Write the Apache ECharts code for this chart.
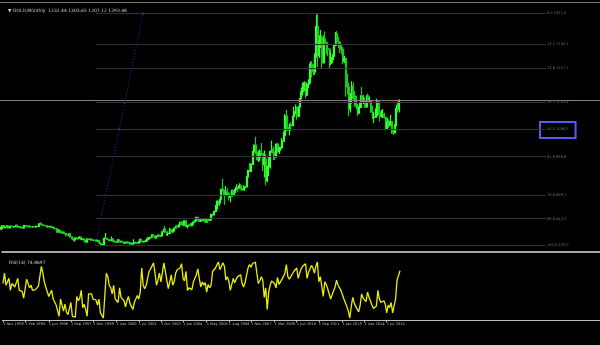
<!DOCTYPE html>
<html>
<head>
<meta charset="utf-8">
<script src="https://cdn.jsdelivr.net/npm/echarts@6/dist/echarts.min.js"></script>
<style>html,body{margin:0;padding:0;background:#000;}#c{width:600px;height:345px;}</style>
</head>
<body>
<div id="c"></div>
<script>
// ---- DATA (monthly GOLD bars, Nov 1993 .. Apr 2016) : [open, close, low, high]
const bars1993 = [[369,370,360,384],[370,391,367,393]];
const bars1994 = [[391,378,375,396],[378,381,374,388],[381,390,378,393],[390,376,369,392],[376,387,374,390],[387,386,383,395],[386,384,381,391],[384,385,377,388],[385,394,384,398],[394,383,383,396],[383,383,379,390],[383,383,375,385]];
const bars1995 = [[383,375,372,384],[375,376,371,379],[376,392,375,396],[392,389,387,396],[389,385,382,392],[385,388,382,391],[388,383,381,389],[383,382,379,386],[382,384,381,387],[384,383,380,388],[383,387,382,390],[387,387,384,390]];
const bars1996 = [[387,405,387,407],[405,401,396,416],[401,396,394,403],[396,392,389,396],[392,391,389,395],[391,382,380,392],[382,385,379,387],[385,387,384,389],[387,379,378,388],[379,380,376,386],[380,371,369,383],[371,369,367,374]];
const bars1997 = [[369,345,342,369],[345,358,341,367],[358,349,347,358],[349,340,337,351],[340,345,339,350],[345,334,333,348],[334,326,314,335],[326,325,319,330],[325,333,317,336],[333,311,306,337],[311,296,294,316],[296,290,283,299]];
const bars1998 = [[290,303,276,308],[303,298,292,305],[298,301,292,302],[301,310,300,315],[310,293,291,311],[293,296,286,299],[296,288,287,297],[288,273,272,290],[273,294,273,300],[294,292,288,302],[292,294,289,300],[294,288,284,297]];
const bars1999 = [[288,287,283,293],[287,287,282,291],[287,280,278,291],[280,286,278,289],[286,268,266,291],[268,262,257,271],[262,255,253,265],[255,255,252,261],[255,299,253,307],[299,299,296,338],[299,292,288,305],[292,290,280,293]];
const bars2000 = [[290,283,281,292],[283,294,281,313],[294,278,276,296],[278,275,273,286],[275,273,267,278],[273,289,272,293],[289,277,276,291],[277,278,271,280],[278,273,270,278],[273,265,263,275],[265,270,264,272],[270,274,267,275]];
const bars2001 = [[274,266,263,275],[266,267,255,268],[267,258,256,269],[258,264,255,266],[264,267,263,293],[267,270,265,276],[270,266,264,272],[266,273,265,281],[273,293,271,294],[293,279,277,294],[279,275,271,282],[275,279,272,281]];
const bars2002 = [[279,282,277,291],[282,297,282,309],[297,303,289,303],[303,308,298,309],[308,326,307,328],[326,318,315,332],[318,304,302,323],[304,312,300,316],[312,324,311,327],[324,316,313,325],[316,319,314,323],[319,347,318,350]];
const bars2003 = [[347,367,344,372],[367,347,342,389],[347,334,319,352],[334,336,318,340],[336,361,336,377],[361,346,340,371],[346,354,341,365],[354,375,350,376],[375,388,371,393],[388,386,371,393],[386,398,375,398],[398,416,395,417]];
const bars2004 = [[416,400,398,428],[400,396,391,420],[396,427,395,430],[427,387,385,431],[387,393,372,397],[393,395,384,400],[395,391,385,410],[391,408,389,409],[408,418,399,419],[418,428,412,429],[428,452,425,455],[452,438,427,456]];
const bars2005 = [[438,422,419,439],[422,435,418,436],[435,428,424,445],[428,435,423,437],[435,417,414,435],[417,435,416,442],[435,429,418,437],[429,433,427,448],[433,472,431,477],[472,470,458,478],[470,495,467,497],[495,513,489,541]];
const bars2006 = [[513,568,512,572],[568,556,538,574],[556,582,535,586],[582,654,580,655],[654,643,636,730],[643,613,543,650],[613,633,605,677],[633,623,605,661],[623,599,573,632],[599,604,560,612],[604,646,603,650],[646,632,605,647]];
const bars2007 = [[632,651,604,653],[651,665,650,690],[665,662,637,673],[662,679,661,697],[679,659,650,691],[659,650,641,672],[650,665,649,683],[665,672,643,675],[672,743,669,746],[743,789,722,795],[789,783,781,845],[783,834,776,842]];
const bars2008 = [[834,923,833,930],[923,972,883,975],[972,916,906,1033],[916,865,864,936],[865,885,850,931],[885,928,860,940],[928,912,901,988],[912,834,786,918],[834,872,740,933],[872,717,681,906],[717,815,705,825],[815,882,750,888]];
const bars2009 = [[882,927,802,928],[927,942,917,1006],[942,917,866,962],[917,888,865,927],[888,979,883,983],[979,927,915,990],[927,954,908,960],[954,955,930,961],[955,1001,947,1024],[1001,1040,1000,1070],[1040,1182,1035,1196],[1182,1096,1075,1227]];
const bars2010 = [[1096,1081,1076,1162],[1081,1118,1044,1126],[1118,1113,1087,1137],[1113,1180,1112,1181],[1180,1212,1156,1249],[1212,1244,1193,1265],[1244,1181,1155,1245],[1181,1248,1174,1253],[1248,1307,1241,1310],[1307,1357,1307,1388],[1357,1386,1330,1424],[1386,1421,1360,1432]];
const bars2011 = [[1421,1332,1308,1424],[1332,1410,1329,1413],[1410,1439,1382,1448],[1439,1556,1417,1576],[1556,1536,1462,1577],[1536,1500,1477,1556],[1500,1628,1479,1632],[1628,1826,1603,1913],[1826,1620,1535,1921],[1620,1722,1600,1764],[1722,1746,1672,1803],[1746,1566,1523,1764]];
const bars2012 = [[1566,1737,1564,1763],[1737,1710,1688,1791],[1710,1668,1627,1720],[1668,1664,1614,1677],[1664,1562,1527,1667],[1562,1604,1549,1641],[1604,1614,1564,1628],[1614,1691,1584,1693],[1691,1773,1685,1788],[1773,1719,1693,1796],[1719,1713,1673,1754],[1713,1675,1635,1723]];
const bars2013 = [[1675,1663,1626,1694],[1663,1578,1555,1680],[1578,1596,1562,1616],[1596,1473,1321,1605],[1473,1393,1338,1487],[1393,1234,1180,1424],[1234,1313,1208,1348],[1313,1396,1270,1433],[1396,1327,1292,1424],[1327,1323,1251,1362],[1323,1250,1227,1325],[1250,1202,1182,1268]];
const bars2014 = [[1202,1244,1202,1279],[1244,1326,1240,1332],[1326,1284,1278,1392],[1284,1296,1268,1332],[1296,1250,1240,1315],[1250,1327,1240,1332],[1327,1282,1280,1345],[1282,1287,1274,1322],[1287,1210,1205,1295],[1210,1172,1160,1255],[1172,1175,1131,1208],[1175,1184,1170,1239]];
const bars2015 = [[1184,1283,1170,1307],[1283,1213,1191,1290],[1213,1183,1142,1225],[1183,1184,1170,1224],[1184,1190,1170,1232],[1190,1172,1162,1205],[1172,1095,1077,1174],[1095,1135,1085,1170],[1135,1115,1098,1157],[1115,1142,1112,1191],[1142,1065,1052,1143],[1065,1061,1046,1088]];
const bars2016 = [[1061,1118,1061,1123],[1118,1238,1108,1263],[1238,1234,1208,1283],[1234,1293,1207,1303]];

// ---- RSI values read from the lower window
const rsi1993 = [60,72];
const rsi1994 = [58,60,66,52,60,58,56,57,66,52,52,51];
const rsi1995 = [43,45,65,60,55,58,52,50,53,51,57,57];
const rsi1996 = [80,72,62,56,55,45,49,52,42,44,35,33];
const rsi1997 = [22,42,35,28,36,27,24,24,38,22,20,21];
const rsi1998 = [45,40,43,52,32,36,30,22,48,46,48,42];
const rsi1999 = [41,41,35,42,26,23,20,21,72,68,58,55];
const rsi2000 = [48,58,42,40,38,55,44,45,40,33,40,45];
const rsi2001 = [37,38,30,38,42,46,42,50,78,58,54,58];
const rsi2002 = [60,74,77,79,84,72,58,64,72,62,64,84];
const rsi2003 = [85,64,54,55,70,58,62,72,76,74,78,83];
const rsi2004 = [66,63,74,52,55,56,53,62,66,70,77,66];
const rsi2005 = [56,62,58,61,50,59,55,58,74,72,78,82];
const rsi2006 = [85,76,80,84,80,64,68,63,52,54,66,61];
const rsi2007 = [65,68,66,70,60,56,61,63,78,82,79,83];
const rsi2008 = [85,85,72,60,63,68,64,44,55,30,50,58];
const rsi2009 = [63,65,60,55,67,59,62,62,68,72,82,68];
const rsi2010 = [65,68,67,74,76,78,66,72,77,80,81,83];
const rsi2011 = [66,73,75,81,78,72,80,85,62,68,69,45];
const rsi2012 = [62,59,54,53,42,47,48,56,64,58,57,52];
const rsi2013 = [50,42,44,33,28,20,34,44,37,37,30,27];
const rsi2014 = [35,48,43,45,39,50,44,45,35,31,32,34];
const rsi2015 = [52,42,38,38,40,36,26,35,32,38,26,25];
const rsi2016 = [42,64,63,74.8697];

// ---- Fibonacci retracement (levels and prices), anchors, bid
const fibLabels = ['0.0','13.2','23.6','38.2','50.0','61.8','78.6','88.6','100.0'];
const fibPrices = [1921.0, 1700.7, 1527.1, 1283.4, 1086.5, 889.6, 609.1, 442.2, 252.0];
const fibStartIdx = 64, fibEndIdx = 368, fibHighIdx = 96, fibMidIdx = 80;
const bidPrice = 1293.48;
const boxIdx = [364, 388], boxPrice = [1139, 1023];

const monthNames = ['Jan','Feb','Mar','Apr','May','Jun','Jul','Aug','Sep','Oct','Nov','Dec'];
const totalSlots = 405; // bars plus empty chart shift on the right
const categories = [];
for (let k = 0; k < totalSlots; k++) {
  const m = (10 + k) % 12, y = 1993 + Math.floor((10 + k) / 12);
  categories.push('1 ' + monthNames[m] + ' ' + y);
}
const candles = [].concat(bars1993,bars1994,bars1995,bars1996,bars1997,bars1998,bars1999,bars2000,bars2001,bars2002,bars2003,bars2004,bars2005,bars2006,bars2007,bars2008,bars2009,bars2010,bars2011,bars2012,bars2013,bars2014,bars2015,bars2016);
const rsi = [].concat(rsi1993,rsi1994,rsi1995,rsi1996,rsi1997,rsi1998,rsi1999,rsi2000,rsi2001,rsi2002,rsi2003,rsi2004,rsi2005,rsi2006,rsi2007,rsi2008,rsi2009,rsi2010,rsi2011,rsi2012,rsi2013,rsi2014,rsi2015,rsi2016);
const nBars = candles.length;

const labelStep = 15.3;
function showLabel(idx) {
  if (idx >= nBars) return false;
  return Math.round(Math.round(idx / labelStep) * labelStep) === idx;
}

const fibLines = fibPrices.map((p, i) => [
  { coord: [categories[fibStartIdx], p], lineStyle: { color: '#333333', width: 1, type: 'solid' },
    label: { show: true, position: 'end', distance: 1, formatter: fibLabels[i] + ' ' + p.toFixed(1), color: '#66706f', fontSize: 3.6, fontFamily: 'DejaVu Sans' } },
  { coord: [categories[fibEndIdx], p] }
]);
const diag = [
  { coord: [categories[fibStartIdx], fibPrices[8]], lineStyle: { color: '#2a2ab8', width: 1, type: [1, 2] }, label: { show: false } },
  { coord: [categories[fibHighIdx], fibPrices[0]] }
];

const chart = echarts.init(document.getElementById('c'), null, { renderer: 'canvas' });
chart.setOption({
  backgroundColor: '#000000',
  animation: false,
  title: [
    { text: '▼ GOLD,Monthly  1232.44 1303.65 1207.12 1293.48', left: 3, top: 3, textStyle: { color: '#cccccc', fontSize: 4.5, fontWeight: 'normal', fontFamily: 'DejaVu Sans' } },
    { text: 'RSI(14) 74.8697', left: 4, top: 255, textStyle: { color: '#cccccc', fontSize: 4.5, fontWeight: 'normal', fontFamily: 'DejaVu Sans' } }
  ],
  grid: [
    { left: 0, top: 8, width: 600, height: 243 },
    { left: 0, top: 252, width: 600, height: 68.5 }
  ],
  xAxis: [
    { type: 'category', gridIndex: 0, data: categories, position: 'top', offset: 6,
      axisLine: { show: true, lineStyle: { color: '#7a7a7a', width: 1 } }, axisTick: { show: false }, axisLabel: { show: false }, splitLine: { show: false } },
    { type: 'category', gridIndex: 1, data: categories, position: 'bottom',
      axisLine: { show: true, lineStyle: { color: '#bdbdbd', width: 1 } },
      axisTick: { show: true, interval: showLabel, length: 2, alignWithLabel: true, lineStyle: { color: '#bdbdbd' } },
      axisLabel: { show: true, interval: showLabel, align: 'left', margin: 1.5, color: '#bdbdbd', fontSize: 3.6, fontFamily: 'DejaVu Sans' },
      splitLine: { show: false } },
    { type: 'category', gridIndex: 1, data: categories, position: 'top',
      axisLine: { show: true, lineStyle: { color: '#a8a8a8', width: 2 } }, axisTick: { show: false }, axisLabel: { show: false } }
  ],
  yAxis: [
    { type: 'value', gridIndex: 0, min: 209, max: 1961, show: false, splitLine: { show: false } },
    { type: 'value', gridIndex: 1, min: 17.1, max: 96.6, show: false, splitLine: { show: false } }
  ],
  series: [
    { type: 'candlestick', xAxisIndex: 0, yAxisIndex: 0, data: candles, barWidth: 1.5,
      itemStyle: { color: '#22e822', color0: '#14b414', borderColor: '#33ff33', borderColor0: '#1cc81c', borderWidth: 1.2 },
      markLine: { silent: true, symbol: ['none', 'none'], animation: false,
        data: [ { yAxis: bidPrice, lineStyle: { color: '#7e7e7e', width: 1, type: 'solid' }, label: { show: false } } ].concat(fibLines, [diag]) },
      markArea: { silent: true,
        data: [[ { coord: [categories[boxIdx[0]], boxPrice[0]], itemStyle: { color: 'rgba(0,0,0,0)', borderColor: '#5a5af0', borderWidth: 2 } },
                 { coord: [categories[boxIdx[1]], boxPrice[1]] } ]] }
    },
    { type: 'scatter', xAxisIndex: 0, yAxisIndex: 0, symbol: 'rect', symbolSize: 2, silent: true,
      itemStyle: { color: '#4a4aff' },
      data: [[categories[fibHighIdx], fibPrices[0]], [categories[fibMidIdx], fibPrices[4]]] },
    { type: 'line', xAxisIndex: 1, yAxisIndex: 1, data: rsi, symbol: 'none', silent: true,
      lineStyle: { color: '#eeee00', width: 1.3 } }
  ]
});
</script>
</body>
</html>
